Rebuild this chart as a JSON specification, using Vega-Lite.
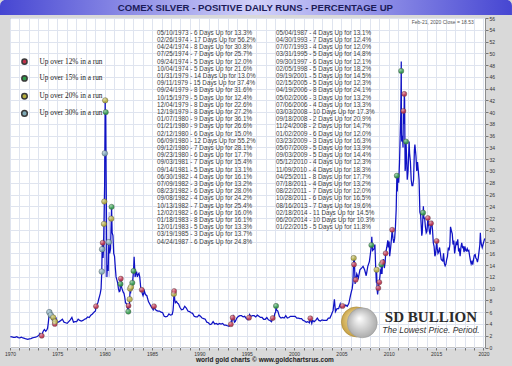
{
 "$schema": "https://vega.github.io/schema/vega-lite/v6.json",
 "width": 475,
 "height": 329.5,
 "autosize": {"type": "none"},
 "padding": {"left": 10, "top": 18, "right": 27, "bottom": 18.5},
 "background": "#d9d9d9",
 "datasets": {
  "runs": [
   {"date":"1973-05-10","days":6,"pct":13.3,"price":2.0},
   {"date":"1974-02-26","days":17,"pct":56.2,"price":6.0},
   {"date":"1974-04-24","days":8,"pct":30.8,"price":5.5},
   {"date":"1974-07-25","days":7,"pct":25.7,"price":5.1},
   {"date":"1974-09-24","days":5,"pct":12.0,"price":4.0},
   {"date":"1974-10-04","days":5,"pct":21.6,"price":4.4},
   {"date":"1979-01-31","days":14,"pct":13.0,"price":7.0},
   {"date":"1979-09-11","days":15,"pct":37.4,"price":12.9},
   {"date":"1979-09-24","days":8,"pct":31.6,"price":16.7},
   {"date":"1979-10-15","days":5,"pct":12.4,"price":17.8},
   {"date":"1979-12-04","days":8,"pct":22.6,"price":21.0},
   {"date":"1979-12-19","days":8,"pct":27.2,"price":24.8},
   {"date":"1980-01-07","days":9,"pct":36.1,"price":33.0},
   {"date":"1980-01-21","days":9,"pct":26.6,"price":42.0},
   {"date":"1980-02-12","days":6,"pct":15.0,"price":40.0},
   {"date":"1980-06-09","days":12,"pct":55.2,"price":17.9},
   {"date":"1980-09-12","days":7,"pct":28.1,"price":21.9},
   {"date":"1980-09-23","days":6,"pct":17.7,"price":23.9},
   {"date":"1981-09-03","days":7,"pct":15.4,"price":10.8},
   {"date":"1981-09-14","days":5,"pct":13.1,"price":11.7},
   {"date":"1982-06-30","days":4,"pct":16.1,"price":6.1},
   {"date":"1982-07-09","days":3,"pct":13.2,"price":7.1},
   {"date":"1982-08-23","days":6,"pct":28.0,"price":8.2},
   {"date":"1982-09-08","days":4,"pct":24.2,"price":10.0},
   {"date":"1982-10-13","days":7,"pct":25.4,"price":10.3},
   {"date":"1982-12-02","days":6,"pct":16.0,"price":11.0},
   {"date":"1983-01-18","days":8,"pct":16.1,"price":13.0},
   {"date":"1983-12-01","days":5,"pct":13.3,"price":9.8},
   {"date":"1985-03-19","days":3,"pct":13.7,"price":7.0},
   {"date":"1987-04-24","days":6,"pct":24.8,"price":9.1},
   {"date":"1987-05-04","days":4,"pct":13.1,"price":9.6},
   {"date":"1993-04-30","days":7,"pct":12.4,"price":3.95},
   {"date":"1993-07-07","days":4,"pct":12.0,"price":5.07},
   {"date":"1995-03-31","days":5,"pct":14.8,"price":5.07},
   {"date":"1997-09-30","days":6,"pct":12.1,"price":5.0},
   {"date":"1998-02-05","days":5,"pct":18.2,"price":7.06},
   {"date":"2001-09-19","days":5,"pct":14.5,"price":4.96},
   {"date":"2005-02-15","days":5,"pct":12.3,"price":7.06},
   {"date":"2006-04-19","days":8,"pct":24.1,"price":15.2},
   {"date":"2006-05-02","days":3,"pct":13.2,"price":14.1},
   {"date":"2006-07-06","days":4,"pct":13.3,"price":11.5},
   {"date":"2008-03-03","days":10,"pct":17.3,"price":17.4},
   {"date":"2008-09-18","days":2,"pct":20.9,"price":13.2},
   {"date":"2008-11-24","days":2,"pct":14.7,"price":10.1},
   {"date":"2009-01-02","days":6,"pct":12.0,"price":11.1},
   {"date":"2009-03-23","days":3,"pct":16.3,"price":14.1},
   {"date":"2009-05-07","days":5,"pct":13.9,"price":14.5},
   {"date":"2009-09-03","days":5,"pct":14.4,"price":16.0},
   {"date":"2010-05-12","days":4,"pct":12.3,"price":20.0},
   {"date":"2010-11-09","days":4,"pct":18.3,"price":29.2},
   {"date":"2011-04-25","days":8,"pct":17.7,"price":47.0},
   {"date":"2011-07-18","days":4,"pct":13.2,"price":40.2},
   {"date":"2011-08-22","days":7,"pct":12.0,"price":43.1},
   {"date":"2011-10-28","days":6,"pct":16.5,"price":35.0},
   {"date":"2013-08-16","days":7,"pct":19.6,"price":22.9},
   {"date":"2014-02-18","days":11,"pct":14.5,"price":22.0},
   {"date":"2014-06-20","days":10,"pct":10.3,"price":21.1},
   {"date":"2015-01-22","days":5,"pct":11.8,"price":18.1}
  ],
  "price": [
   {"d":"1970-01-15","p":1.85},{"d":"1970-03-15","p":1.80},{"d":"1970-05-15","p":1.72},{"d":"1970-07-15","p":1.74},{"d":"1970-09-15","p":1.84},{"d":"1970-11-15","p":1.68},
   {"d":"1971-01-15","p":1.64},{"d":"1971-03-15","p":1.74},{"d":"1971-05-15","p":1.62},{"d":"1971-07-15","p":1.55},{"d":"1971-09-15","p":1.45},{"d":"1971-11-15","p":1.38},
   {"d":"1972-01-15","p":1.45},{"d":"1972-03-15","p":1.52},{"d":"1972-05-15","p":1.62},{"d":"1972-07-15","p":1.70},{"d":"1972-09-15","p":1.76},{"d":"1972-11-15","p":1.86},
   {"d":"1973-01-15","p":2.05},{"d":"1973-03-01","p":2.40},{"d":"1973-04-10","p":2.15},{"d":"1973-05-10","p":2.0},{"d":"1973-06-15","p":2.55},{"d":"1973-07-15","p":2.85},{"d":"1973-08-20","p":3.05},{"d":"1973-10-10","p":2.75},{"d":"1973-11-20","p":3.0},{"d":"1973-12-20","p":3.25},
   {"d":"1974-01-15","p":4.1},{"d":"1974-02-10","p":5.2},{"d":"1974-02-20","p":6.4},{"d":"1974-02-26","p":6.0},{"d":"1974-03-15","p":5.7},{"d":"1974-04-24","p":5.5},{"d":"1974-05-20","p":5.0},{"d":"1974-06-20","p":4.7},{"d":"1974-07-25","p":5.1},{"d":"1974-08-20","p":4.6},{"d":"1974-09-24","p":4.0},{"d":"1974-10-04","p":4.4},{"d":"1974-11-15","p":4.9},{"d":"1974-12-20","p":4.4},
   {"d":"1975-01-20","p":4.3},{"d":"1975-03-15","p":4.4},{"d":"1975-05-15","p":4.6},{"d":"1975-07-15","p":4.8},{"d":"1975-09-15","p":4.3},{"d":"1975-11-15","p":4.2},
   {"d":"1976-01-15","p":4.1},{"d":"1976-03-15","p":4.4},{"d":"1976-05-15","p":4.7},{"d":"1976-07-15","p":5.1},{"d":"1976-09-15","p":4.3},{"d":"1976-11-15","p":4.4},
   {"d":"1977-01-15","p":4.4},{"d":"1977-03-15","p":4.8},{"d":"1977-05-15","p":4.6},{"d":"1977-07-15","p":4.5},{"d":"1977-09-15","p":4.6},{"d":"1977-11-15","p":4.8},
   {"d":"1978-01-15","p":4.9},{"d":"1978-03-15","p":5.2},{"d":"1978-05-15","p":5.1},{"d":"1978-07-15","p":5.5},{"d":"1978-09-15","p":5.7},{"d":"1978-11-15","p":6.0},
   {"d":"1979-01-10","p":6.2},{"d":"1979-01-31","p":7.0},{"d":"1979-03-15","p":7.4},{"d":"1979-04-15","p":7.6},{"d":"1979-05-15","p":8.2},{"d":"1979-06-15","p":8.7},{"d":"1979-07-15","p":9.2},{"d":"1979-08-15","p":10.0},{"d":"1979-09-11","p":12.9},{"d":"1979-09-24","p":16.7},{"d":"1979-10-08","p":17.5},{"d":"1979-10-15","p":17.8},{"d":"1979-10-30","p":15.2},{"d":"1979-11-15","p":16.5},{"d":"1979-12-04","p":21.0},{"d":"1979-12-19","p":24.8},{"d":"1979-12-31","p":28.0},
   {"d":"1980-01-07","p":33.0},{"d":"1980-01-14","p":37.0},{"d":"1980-01-21","p":42.0},{"d":"1980-01-28","p":34.0},{"d":"1980-02-05","p":36.0},{"d":"1980-02-12","p":40.0},{"d":"1980-02-25","p":30.0},{"d":"1980-03-10","p":22.0},{"d":"1980-03-27","p":12.0},{"d":"1980-04-15","p":14.0},{"d":"1980-05-15","p":13.0},{"d":"1980-06-09","p":17.9},{"d":"1980-07-10","p":16.0},{"d":"1980-08-15","p":16.8},{"d":"1980-09-12","p":21.9},{"d":"1980-09-23","p":23.9},{"d":"1980-10-15","p":19.5},{"d":"1980-11-15","p":19.0},{"d":"1980-12-15","p":16.0},
   {"d":"1981-01-15","p":15.5},{"d":"1981-02-15","p":13.5},{"d":"1981-03-15","p":12.0},{"d":"1981-04-15","p":11.5},{"d":"1981-05-15","p":11.0},{"d":"1981-06-15","p":10.0},{"d":"1981-07-15","p":9.5},{"d":"1981-08-15","p":9.6},{"d":"1981-09-03","p":10.8},{"d":"1981-09-14","p":11.7},{"d":"1981-10-15","p":10.2},{"d":"1981-11-15","p":9.8},{"d":"1981-12-15","p":9.4},
   {"d":"1982-01-15","p":9.2},{"d":"1982-02-15","p":8.5},{"d":"1982-03-15","p":7.6},{"d":"1982-04-15","p":7.5},{"d":"1982-05-15","p":7.0},{"d":"1982-06-15","p":6.3},{"d":"1982-06-30","p":6.1},{"d":"1982-07-09","p":7.1},{"d":"1982-08-10","p":6.8},{"d":"1982-08-23","p":8.2},{"d":"1982-09-08","p":10.0},{"d":"1982-09-25","p":9.2},{"d":"1982-10-13","p":10.3},{"d":"1982-11-10","p":10.2},{"d":"1982-12-02","p":11.0},{"d":"1982-12-20","p":11.5},
   {"d":"1983-01-18","p":13.0},{"d":"1983-02-10","p":15.4},{"d":"1983-02-25","p":14.0},{"d":"1983-03-20","p":12.0},{"d":"1983-04-15","p":12.5},{"d":"1983-05-15","p":12.9},{"d":"1983-06-15","p":12.0},{"d":"1983-07-15","p":12.4},{"d":"1983-08-15","p":12.6},{"d":"1983-09-15","p":12.0},{"d":"1983-10-15","p":10.5},{"d":"1983-11-15","p":9.5},{"d":"1983-12-01","p":9.8},{"d":"1983-12-20","p":9.2},
   {"d":"1984-01-20","p":8.8},{"d":"1984-03-10","p":9.6},{"d":"1984-04-20","p":9.0},{"d":"1984-06-15","p":8.8},{"d":"1984-08-15","p":7.8},{"d":"1984-10-15","p":7.3},{"d":"1984-12-15","p":6.8},
   {"d":"1985-02-15","p":6.4},{"d":"1985-03-19","p":7.0},{"d":"1985-04-15","p":6.6},{"d":"1985-06-15","p":6.3},{"d":"1985-08-15","p":6.2},{"d":"1985-10-15","p":6.2},{"d":"1985-12-15","p":6.0},
   {"d":"1986-02-15","p":5.9},{"d":"1986-04-15","p":5.3},{"d":"1986-06-15","p":5.2},{"d":"1986-08-15","p":5.3},{"d":"1986-10-15","p":5.7},{"d":"1986-12-15","p":5.5},
   {"d":"1987-02-15","p":5.6},{"d":"1987-03-20","p":6.2},{"d":"1987-04-10","p":7.4},{"d":"1987-04-24","p":9.1},{"d":"1987-05-04","p":9.6},{"d":"1987-05-25","p":8.2},{"d":"1987-06-20","p":7.6},{"d":"1987-08-01","p":7.8},{"d":"1987-09-15","p":7.5},{"d":"1987-10-20","p":7.4},{"d":"1987-12-15","p":6.8},
   {"d":"1988-02-15","p":6.4},{"d":"1988-04-15","p":6.5},{"d":"1988-06-15","p":7.0},{"d":"1988-08-15","p":6.7},{"d":"1988-10-15","p":6.2},{"d":"1988-12-15","p":6.1},
   {"d":"1989-02-15","p":5.9},{"d":"1989-04-15","p":5.8},{"d":"1989-06-15","p":5.3},{"d":"1989-08-15","p":5.2},{"d":"1989-10-15","p":5.2},{"d":"1989-12-15","p":5.5},
   {"d":"1990-02-15","p":5.3},{"d":"1990-04-15","p":5.0},{"d":"1990-06-15","p":4.9},{"d":"1990-08-15","p":4.8},{"d":"1990-10-15","p":4.3},{"d":"1990-12-15","p":4.2},
   {"d":"1991-02-15","p":3.9},{"d":"1991-04-15","p":4.0},{"d":"1991-06-15","p":4.4},{"d":"1991-08-15","p":4.0},{"d":"1991-10-15","p":4.1},{"d":"1991-12-15","p":3.9},
   {"d":"1992-02-15","p":4.1},{"d":"1992-04-15","p":4.0},{"d":"1992-06-15","p":4.1},{"d":"1992-08-15","p":3.8},{"d":"1992-10-15","p":3.8},{"d":"1992-12-15","p":3.7},
   {"d":"1993-02-15","p":3.6},{"d":"1993-04-30","p":3.95},{"d":"1993-05-20","p":4.6},{"d":"1993-06-15","p":4.5},{"d":"1993-07-07","p":5.07},{"d":"1993-08-01","p":5.3},{"d":"1993-09-15","p":4.3},{"d":"1993-10-15","p":4.4},{"d":"1993-12-15","p":5.0},
   {"d":"1994-02-15","p":5.3},{"d":"1994-04-15","p":5.4},{"d":"1994-06-15","p":5.4},{"d":"1994-08-15","p":5.2},{"d":"1994-10-15","p":5.3},{"d":"1994-12-15","p":4.9},
   {"d":"1995-02-15","p":4.7},{"d":"1995-03-31","p":5.07},{"d":"1995-04-20","p":5.6},{"d":"1995-06-15","p":5.3},{"d":"1995-08-15","p":5.4},{"d":"1995-10-15","p":5.4},{"d":"1995-12-15","p":5.2},
   {"d":"1996-02-15","p":5.5},{"d":"1996-04-15","p":5.3},{"d":"1996-06-15","p":5.1},{"d":"1996-08-15","p":5.1},{"d":"1996-10-15","p":4.8},{"d":"1996-12-15","p":4.8},
   {"d":"1997-02-15","p":5.1},{"d":"1997-04-15","p":4.7},{"d":"1997-06-15","p":4.6},{"d":"1997-08-15","p":4.4},{"d":"1997-09-30","p":5.0},{"d":"1997-11-15","p":4.9},{"d":"1997-12-20","p":5.8},
   {"d":"1998-01-20","p":6.0},{"d":"1998-02-05","p":7.06},{"d":"1998-02-20","p":6.4},{"d":"1998-04-15","p":6.2},{"d":"1998-06-15","p":5.3},{"d":"1998-08-15","p":5.0},{"d":"1998-10-15","p":5.1},{"d":"1998-12-15","p":5.0},
   {"d":"1999-02-15","p":5.4},{"d":"1999-04-15","p":5.0},{"d":"1999-06-15","p":5.1},{"d":"1999-08-15","p":5.3},{"d":"1999-10-15","p":5.3},{"d":"1999-12-15","p":5.3},
   {"d":"2000-02-15","p":5.3},{"d":"2000-04-15","p":5.0},{"d":"2000-06-15","p":5.0},{"d":"2000-08-15","p":4.9},{"d":"2000-10-15","p":4.9},{"d":"2000-12-15","p":4.6},
   {"d":"2001-02-15","p":4.5},{"d":"2001-04-15","p":4.3},{"d":"2001-06-15","p":4.4},{"d":"2001-08-15","p":4.2},{"d":"2001-09-19","p":4.96},{"d":"2001-11-15","p":4.1},{"d":"2001-12-15","p":4.6},
   {"d":"2002-02-15","p":4.4},{"d":"2002-04-15","p":4.6},{"d":"2002-06-15","p":5.0},{"d":"2002-08-15","p":4.6},{"d":"2002-10-15","p":4.5},{"d":"2002-12-15","p":4.7},
   {"d":"2003-02-15","p":4.6},{"d":"2003-04-15","p":4.6},{"d":"2003-06-15","p":4.6},{"d":"2003-08-15","p":5.0},{"d":"2003-10-15","p":5.0},{"d":"2003-12-15","p":5.6},
   {"d":"2004-02-15","p":6.3},{"d":"2004-04-05","p":8.2},{"d":"2004-05-15","p":6.1},{"d":"2004-07-15","p":6.6},{"d":"2004-09-15","p":6.6},{"d":"2004-11-15","p":7.4},{"d":"2004-12-20","p":6.8},
   {"d":"2005-02-15","p":7.06},{"d":"2005-04-15","p":7.0},{"d":"2005-06-15","p":7.2},{"d":"2005-08-15","p":7.0},{"d":"2005-10-15","p":7.5},{"d":"2005-12-15","p":8.8},
   {"d":"2006-01-20","p":9.5},{"d":"2006-02-20","p":10.0},{"d":"2006-03-20","p":11.0},{"d":"2006-04-19","p":15.2},{"d":"2006-05-02","p":14.1},{"d":"2006-05-12","p":15.5},{"d":"2006-06-12","p":10.8},{"d":"2006-07-06","p":11.5},{"d":"2006-08-15","p":12.5},{"d":"2006-10-15","p":11.8},{"d":"2006-12-15","p":13.2},
   {"d":"2007-02-15","p":13.5},{"d":"2007-04-15","p":13.8},{"d":"2007-06-15","p":13.2},{"d":"2007-08-15","p":12.2},{"d":"2007-10-15","p":13.8},{"d":"2007-12-15","p":14.6},
   {"d":"2008-01-20","p":15.8},{"d":"2008-03-03","p":17.4},{"d":"2008-03-17","p":18.8},{"d":"2008-04-15","p":16.5},{"d":"2008-06-15","p":16.8},{"d":"2008-07-15","p":17.5},{"d":"2008-08-15","p":13.5},{"d":"2008-09-10","p":11.0},{"d":"2008-09-18","p":13.2},{"d":"2008-10-10","p":9.8},{"d":"2008-10-28","p":9.0},{"d":"2008-11-24","p":10.1},{"d":"2008-12-15","p":10.8},
   {"d":"2009-01-02","p":11.1},{"d":"2009-02-15","p":13.0},{"d":"2009-03-10","p":12.8},{"d":"2009-03-23","p":14.1},{"d":"2009-04-15","p":12.5},{"d":"2009-05-07","p":14.5},{"d":"2009-06-15","p":15.0},{"d":"2009-07-15","p":13.5},{"d":"2009-08-15","p":14.5},{"d":"2009-09-03","p":16.0},{"d":"2009-10-15","p":17.0},{"d":"2009-11-25","p":18.2},{"d":"2009-12-15","p":17.0},
   {"d":"2010-01-15","p":18.0},{"d":"2010-02-05","p":15.5},{"d":"2010-03-15","p":17.0},{"d":"2010-04-15","p":18.5},{"d":"2010-05-12","p":20.0},{"d":"2010-06-15","p":18.5},{"d":"2010-07-15","p":17.8},{"d":"2010-08-15","p":18.5},{"d":"2010-09-15","p":20.5},{"d":"2010-10-15","p":23.5},{"d":"2010-11-09","p":29.2},{"d":"2010-11-25","p":26.5},{"d":"2010-12-20","p":29.5},
   {"d":"2011-01-20","p":28.0},{"d":"2011-02-20","p":31.5},{"d":"2011-03-20","p":36.5},{"d":"2011-04-10","p":40.0},{"d":"2011-04-25","p":47.0},{"d":"2011-04-28","p":48.6},{"d":"2011-05-05","p":37.0},{"d":"2011-05-15","p":35.0},{"d":"2011-06-15","p":36.0},{"d":"2011-07-05","p":34.0},{"d":"2011-07-18","p":40.2},{"d":"2011-08-10","p":38.0},{"d":"2011-08-22","p":43.1},{"d":"2011-09-05","p":42.0},{"d":"2011-09-23","p":30.0},{"d":"2011-10-05","p":30.5},{"d":"2011-10-28","p":35.0},{"d":"2011-11-15","p":33.0},{"d":"2011-12-15","p":28.5},
   {"d":"2012-01-15","p":30.0},{"d":"2012-02-25","p":35.0},{"d":"2012-03-15","p":33.0},{"d":"2012-04-15","p":31.5},{"d":"2012-05-15","p":28.5},{"d":"2012-06-15","p":27.5},{"d":"2012-07-15","p":27.5},{"d":"2012-08-15","p":28.5},{"d":"2012-09-15","p":33.5},{"d":"2012-10-05","p":34.5},{"d":"2012-11-15","p":32.5},{"d":"2012-12-15","p":30.0},
   {"d":"2013-01-15","p":31.5},{"d":"2013-02-15","p":30.0},{"d":"2013-03-15","p":28.5},{"d":"2013-04-15","p":23.0},{"d":"2013-05-15","p":22.5},{"d":"2013-06-27","p":19.0},{"d":"2013-07-15","p":19.5},{"d":"2013-08-16","p":22.9},{"d":"2013-08-28","p":24.0},{"d":"2013-09-15","p":22.0},{"d":"2013-10-15","p":22.0},{"d":"2013-11-15","p":20.5},{"d":"2013-12-15","p":19.5},
   {"d":"2014-01-15","p":19.8},{"d":"2014-02-18","p":22.0},{"d":"2014-03-15","p":21.0},{"d":"2014-04-15","p":19.8},{"d":"2014-05-15","p":19.2},{"d":"2014-06-20","p":21.1},{"d":"2014-07-15","p":21.3},{"d":"2014-08-15","p":20.0},{"d":"2014-09-15","p":17.8},{"d":"2014-10-15","p":17.2},{"d":"2014-11-15","p":15.5},{"d":"2014-12-15","p":16.0},
   {"d":"2015-01-22","p":18.1},{"d":"2015-02-15","p":16.8},{"d":"2015-03-15","p":16.0},{"d":"2015-04-15","p":16.3},{"d":"2015-05-15","p":17.0},{"d":"2015-06-15","p":16.0},{"d":"2015-07-15","p":15.0},{"d":"2015-08-15","p":14.8},{"d":"2015-09-15","p":14.7},{"d":"2015-10-15","p":16.0},{"d":"2015-11-15","p":14.3},{"d":"2015-12-15","p":13.9},
   {"d":"2016-01-15","p":14.2},{"d":"2016-02-15","p":15.0},{"d":"2016-03-15","p":15.5},{"d":"2016-04-15","p":17.0},{"d":"2016-05-15","p":16.5},{"d":"2016-06-15","p":17.5},{"d":"2016-07-10","p":20.5},{"d":"2016-08-15","p":19.8},{"d":"2016-09-15","p":19.3},{"d":"2016-10-15","p":17.5},{"d":"2016-11-15","p":18.2},{"d":"2016-12-15","p":16.0},
   {"d":"2017-01-15","p":17.0},{"d":"2017-02-15","p":18.0},{"d":"2017-03-15","p":17.4},{"d":"2017-04-15","p":18.4},{"d":"2017-05-15","p":16.5},{"d":"2017-06-15","p":16.7},{"d":"2017-07-15","p":15.5},{"d":"2017-08-15","p":17.0},{"d":"2017-09-15","p":17.8},{"d":"2017-10-15","p":17.0},{"d":"2017-11-15","p":17.1},{"d":"2017-12-15","p":16.2},
   {"d":"2018-01-15","p":17.2},{"d":"2018-02-15","p":16.5},{"d":"2018-03-15","p":16.4},{"d":"2018-04-15","p":16.8},{"d":"2018-05-15","p":16.4},{"d":"2018-06-15","p":16.5},{"d":"2018-07-15","p":15.6},{"d":"2018-08-15","p":14.8},{"d":"2018-09-15","p":14.2},{"d":"2018-10-15","p":14.6},{"d":"2018-11-15","p":14.1},{"d":"2018-12-15","p":15.0},
   {"d":"2019-01-15","p":15.7},{"d":"2019-02-15","p":15.8},{"d":"2019-03-15","p":15.2},{"d":"2019-04-15","p":15.0},{"d":"2019-05-15","p":14.5},{"d":"2019-06-15","p":15.2},{"d":"2019-07-15","p":16.3},{"d":"2019-08-15","p":17.5},{"d":"2019-09-04","p":19.5},{"d":"2019-09-20","p":18.2},{"d":"2019-10-15","p":17.5},{"d":"2019-11-15","p":17.0},{"d":"2019-12-15","p":17.5},
   {"d":"2020-01-15","p":18.0},{"d":"2020-02-21","p":18.53}
  ],
  "ranges": [
   {"d":"1979-12-31","lo":13.0,"hi":33.0},
   {"d":"1980-01-25","lo":12.0,"hi":42.0},
   {"d":"1980-06-20","lo":12.0,"hi":23.0}
  ]
 },
 "layer": [
  {
   "data": {"name": "ranges"},
   "mark": {"type": "rule", "color": "#a4a4ea", "strokeWidth": 1},
   "encoding": {
    "x": {"field": "d", "type": "temporal", "scale": {"type": "utc", "domain": [{"year": 1970, "month": 1, "date": 1, "utc": true}, {"year": 2020, "month": 3, "date": 1, "utc": true}]},
          "axis": {"title": null, "orient": "bottom", "tickCount": {"interval": "year", "step": 1}, "labelExpr": "utcyear(datum.value) % 5 === 0 ? utcFormat(datum.value, '%Y') : ''", "labelOverlap": false, "labelFlush": false, "grid": true, "gridColor": "#dfe4ef", "tickSize": 2.5, "tickColor": "#777", "labelFontSize": 5, "labelColor": "#333", "labelPadding": 1, "domain": false}},
    "y": {"field": "lo", "type": "quantitative", "scale": {"domain": [0, 56], "nice": false, "zero": false},
          "axis": {"title": null, "orient": "right", "values": [0,2,4,6,8,10,12,14,16,18,20,22,24,26,28,30,32,34,36,38,40,42,44,46,48,50,52,54,56], "tickCount": 30, "labelOverlap": false, "grid": true, "gridColor": "#dfe4ef", "tickSize": 3, "tickColor": "#777", "labelFontSize": 5, "labelColor": "#333", "labelPadding": 1, "labelFlush": false, "domain": false}},
    "y2": {"field": "hi"}
   }
  },
  {
   "data": {"name": "price"},
   "mark": {"type": "line", "color": "#0f12c4", "strokeWidth": 1.25, "interpolate": "linear"},
   "encoding": {
    "x": {"field": "d", "type": "temporal"},
    "y": {"field": "p", "type": "quantitative"}
   }
  },
  {
   "data": {"values": [{"title": "COMEX SILVER - POSITIVE DAILY RUNS - PERCENTAGE UP"}]},
   "mark": {"type": "rect", "cornerRadiusTopLeft": 6, "cornerRadiusTopRight": 6, "clip": false, "fill": {"x1": 0, "y1": 0, "x2": 1, "y2": 0, "gradient": "linear", "stops": [{"offset": 0, "color": "#4646d2"}, {"offset": 0.5, "color": "#d2d2fa"}, {"offset": 1, "color": "#4646d2"}]}},
   "encoding": {
    "x": {"datum": {"year": 1968, "month": 12, "date": 11, "utc": true}, "type": "temporal"},
    "x2": {"datum": {"year": 2023, "month": 1, "date": 5, "utc": true}},
    "y": {"datum": 59.1, "type": "quantitative"},
    "y2": {"datum": 56.5}
   }
  },
  {
   "data": {"values": [{"title": "COMEX SILVER - POSITIVE DAILY RUNS - PERCENTAGE UP"}]},
   "mark": {"type": "text", "align": "center", "baseline": "middle", "font": "Liberation Sans", "fontSize": 9.6, "fontWeight": "bold", "color": "#1b1b58"},
   "encoding": {
    "x": {"datum": {"year": 1995, "month": 12, "date": 1, "utc": true}, "type": "temporal"},
    "y": {"datum": 57.75, "type": "quantitative"},
    "text": {"field": "title"}
   }
  },
  {
   "data": {"values": [{}]},
   "mark": {"type": "point", "filled": true, "size": 900, "stroke": "#a88630", "strokeWidth": 0.6, "opacity": 1, "fill": {"gradient": "radial", "x1": 0.4, "y1": 0.35, "r1": 0, "x2": 0.5, "y2": 0.5, "r2": 0.55, "stops": [{"offset": 0, "color": "#f6e6a8"}, {"offset": 1, "color": "#c39b3e"}]}},
   "encoding": {
    "x": {"datum": {"year": 2006, "month": 8, "date": 1, "utc": true}, "type": "temporal"},
    "y": {"datum": 4.35, "type": "quantitative"}
   }
  },
  {
   "data": {"values": [{}]},
   "mark": {"type": "point", "filled": true, "size": 900, "stroke": "#9a9a9a", "strokeWidth": 0.6, "opacity": 1, "fill": {"gradient": "radial", "x1": 0.4, "y1": 0.35, "r1": 0, "x2": 0.5, "y2": 0.5, "r2": 0.55, "stops": [{"offset": 0, "color": "#ffffff"}, {"offset": 1, "color": "#a6a6a6"}]}},
   "encoding": {
    "x": {"datum": {"year": 2007, "month": 3, "date": 15, "utc": true}, "type": "temporal"},
    "y": {"datum": 4.2, "type": "quantitative"}
   }
  },
  {
   "data": {"name": "runs"},
   "transform": [
    {"calculate": "datum.pct >= 30 ? 'Up over 30% in a run' : datum.pct >= 20 ? 'Up over 20% in a run' : datum.pct >= 15 ? 'Up over 15% in a run' : 'Up over 12% in a run'", "as": "cat"}
   ],
   "mark": {"type": "point", "filled": true, "opacity": 0.92, "stroke": "#3a3a3a", "strokeWidth": 0.4},
   "encoding": {
    "x": {"field": "date", "type": "temporal"},
    "y": {"field": "price", "type": "quantitative"},
    "color": {"field": "cat", "type": "nominal",
              "scale": {"domain": ["Up over 12% in a run", "Up over 15% in a run", "Up over 20% in a run", "Up over 30% in a run"], "range": ["#c0304a", "#2f9a48", "#b6ae3c", "#7ea9b6"]},
              "legend": {"orient": "none", "legendX": 10.5, "legendY": 40, "title": null, "labelFont": "Liberation Serif", "labelFontSize": 7.3, "labelColor": "#222", "rowPadding": 4.8, "labelOffset": 11, "padding": 0, "symbolType": "circle", "symbolOpacity": 1}},
    "size": {"field": "cat", "type": "nominal",
             "scale": {"domain": ["Up over 12% in a run", "Up over 15% in a run", "Up over 20% in a run", "Up over 30% in a run"], "range": [26, 32, 38, 95]}}
   }
  },
  {
   "data": {"name": "runs"},
   "transform": [
    {"calculate": "datum.pct >= 30 ? 'Up over 30% in a run' : datum.pct >= 20 ? 'Up over 20% in a run' : datum.pct >= 15 ? 'Up over 15% in a run' : 'Up over 12% in a run'", "as": "cat"}
   ],
   "mark": {"type": "point", "filled": true, "strokeWidth": 0, "fill": {"gradient": "radial", "x1": 0.35, "y1": 0.3, "r1": 0, "x2": 0.4, "y2": 0.35, "r2": 0.45, "stops": [{"offset": 0, "color": "rgba(255,255,255,0.85)"}, {"offset": 1, "color": "rgba(255,255,255,0)"}]}},
   "encoding": {
    "x": {"field": "date", "type": "temporal"},
    "y": {"field": "price", "type": "quantitative"},
    "size": {"field": "cat", "type": "nominal"}
   }
  },
  {
   "data": {"name": "runs"},
   "transform": [
    {"window": [{"op": "row_number", "as": "idx"}]},
    {"calculate": "datum.idx > 30 ? 1 : 0", "as": "col"},
    {"calculate": "datum.idx - 1 - 30 * datum.col", "as": "row"},
    {"calculate": "datum.col == 0 ? utc(1985, 6, 10) : utc(1998, 1, 3)", "as": "listx"},
    {"calculate": "53.5 - datum.row * 1.2237", "as": "listy"},
    {"calculate": "utcFormat(toDate(datum.date), '%m/%d/%Y') + ' - ' + datum.days + ' Days Up for ' + format(datum.pct, '.1f') + '%'", "as": "label"}
   ],
   "mark": {"type": "text", "align": "left", "baseline": "middle", "font": "Liberation Sans", "fontSize": 6.3, "color": "#3d3d3d"},
   "encoding": {
    "x": {"field": "listx", "type": "temporal"},
    "y": {"field": "listy", "type": "quantitative"},
    "text": {"field": "label"}
   }
  },
  {
   "data": {"values": [{"d": "2020-02-21", "close": 18.53}]},
   "transform": [{"calculate": "utcFormat(toDate(datum.d), '%b-%d, %Y') + '     Close = ' + format(datum.close, '.2f')", "as": "note"}],
   "mark": {"type": "text", "align": "right", "baseline": "middle", "dx": -11, "fontSize": 5, "color": "#555", "font": "Liberation Sans"},
   "encoding": {
    "x": {"field": "d", "type": "temporal"},
    "y": {"datum": 55.3, "type": "quantitative"},
    "text": {"field": "note"}
   }
  },
  {
   "data": {"values": [{"t": "world gold charts © www.goldchartsrus.com"}]},
   "mark": {"type": "text", "align": "center", "baseline": "middle", "fontSize": 6.5, "fontWeight": "bold", "color": "#222", "font": "Liberation Sans"},
   "encoding": {
    "x": {"datum": {"year": 1996, "month": 12, "date": 5, "utc": true}, "type": "temporal"},
    "y": {"datum": -2.15, "type": "quantitative"},
    "text": {"field": "t"}
   }
  },
  {
   "data": {"values": [{"t": "SD BULLION"}]},
   "mark": {"type": "text", "align": "center", "baseline": "middle", "fontSize": 15, "fontWeight": "bold", "color": "#2b2b2b", "font": "Liberation Serif"},
   "encoding": {
    "x": {"datum": {"year": 2014, "month": 6, "date": 15, "utc": true}, "type": "temporal"},
    "y": {"datum": 5.2, "type": "quantitative"},
    "text": {"field": "t"}
   }
  },
  {
   "data": {"values": [{"t": "The Lowest Price. Period."}]},
   "mark": {"type": "text", "align": "center", "baseline": "middle", "fontSize": 8.5, "fontStyle": "italic", "color": "#333", "font": "Liberation Sans"},
   "encoding": {
    "x": {"datum": {"year": 2014, "month": 6, "date": 15, "utc": true}, "type": "temporal"},
    "y": {"datum": 3.0, "type": "quantitative"},
    "text": {"field": "t"}
   }
  }
 ],
 "config": {
  "view": {"fill": "#ffffff", "stroke": "#8c8c8c", "strokeWidth": 1},
  "font": "Liberation Sans",
  "axisY": {"labelFontSize": 5, "labelColor": "#333", "tickSize": 3, "tickColor": "#777", "labelPadding": 1, "gridColor": "#dfe4ef", "domain": false, "labelOverlap": false, "labelFlush": false},
  "axisX": {"labelFontSize": 5, "labelColor": "#333", "tickSize": 2.5, "tickColor": "#777", "labelPadding": 1, "gridColor": "#dfe4ef", "domain": false, "labelOverlap": false, "labelFlush": false}
 }
}
